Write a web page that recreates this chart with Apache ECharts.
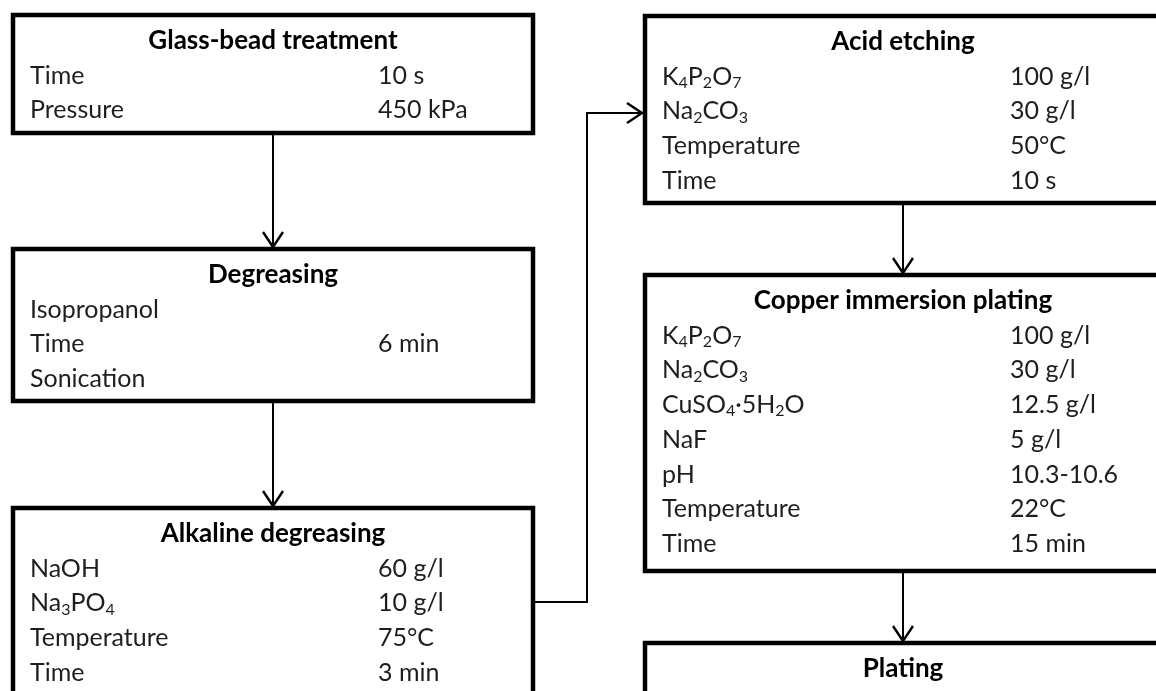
<!DOCTYPE html>
<html>
<head>
<meta charset="utf-8">
<script src="https://cdn.jsdelivr.net/npm/echarts@6/dist/echarts.min.js"></script>
<style>
  html, body { margin: 0; padding: 0; background: #ffffff; }
  #chart { width: 1156px; height: 691px; }
</style>
</head>
<body>
<div id="chart"></div>
<script>
// ---------- data ----------
const stepTitles = ['Glass-bead treatment', 'Degreasing', 'Alkaline degreasing',
                    'Acid etching', 'Copper immersion plating', 'Plating'];

const glassLabels = ['Time', 'Pressure'];
const glassValues = ['10 s', '450 kPa'];

const degreaseLabels = ['Isopropanol', 'Time', 'Sonication'];
const degreaseValues = ['', '6 min', ''];

const alkalineLabels = ['NaOH', 'Na{s|3}PO{s|4}', 'Temperature', 'Time'];
const alkalineValues = ['60 g/l', '10 g/l', '75°C', '3 min'];

const acidLabels = ['K{s|4}P{s|2}O{s|7}', 'Na{s|2}CO{s|3}', 'Temperature', 'Time'];
const acidValues = ['100 g/l', '30 g/l', '50°C', '10 s'];

const copperLabels = ['K{s|4}P{s|2}O{s|7}', 'Na{s|2}CO{s|3}', 'CuSO{s|4}·5H{s|2}O', 'NaF', 'pH', 'Temperature', 'Time'];
const copperValues = ['100 g/l', '30 g/l', '12.5 g/l', '5 g/l', '10.3-10.6', '22°C', '15 min'];

const platingLabels = [];
const platingValues = [];

const stepLabels = [glassLabels, degreaseLabels, alkalineLabels, acidLabels, copperLabels, platingLabels];
const stepValues = [glassValues, degreaseValues, alkalineValues, acidValues, copperValues, platingValues];

// ---------- layout (positions / sizes) ----------
const boxLayout = [
  { x: 13,  y: 15,  w: 520, h: 118 },
  { x: 13,  y: 249, w: 520, h: 152 },
  { x: 13,  y: 508, w: 520, h: 220 },
  { x: 645, y: 16,  w: 516, h: 187 },
  { x: 645, y: 275, w: 516, h: 296 },
  { x: 645, y: 643, w: 516, h: 120 }
];
const TITLE_OFF = 26, ROW_GAP = 34.7, LABEL_X = 17, VALUE_X = 365;
const FONT = 'Lato, "Open Sans", sans-serif';
const FS = 25;

const richStyles = {
  n: { fontSize: FS, fontFamily: FONT, fill: '#1e1e1e', lineHeight: 28, verticalAlign: 'middle' },
  s: { fontSize: 16, fontFamily: FONT, fill: '#1e1e1e', lineHeight: 14, verticalAlign: 'bottom' }
};

function toRich(str) {
  const parts = [];
  const re = /\{s\|([^}]*)\}/g;
  let last = 0, m;
  while ((m = re.exec(str)) !== null) {
    if (m.index > last) parts.push('{n|' + str.slice(last, m.index) + '}');
    parts.push('{s|' + m[1] + '}');
    last = re.lastIndex;
  }
  if (last < str.length) parts.push('{n|' + str.slice(last) + '}');
  return parts.join('');
}

const elements = [];

boxLayout.forEach((b, i) => {
  elements.push({
    type: 'rect',
    shape: { x: b.x, y: b.y, width: b.w, height: b.h },
    style: { fill: '#ffffff', stroke: '#000000', lineWidth: 4.5 },
    z: 1
  });
  elements.push({
    type: 'text',
    x: b.x + b.w / 2,
    y: b.y + TITLE_OFF,
    style: {
      text: stepTitles[i],
      fontSize: 26, fontWeight: 'bold', fontFamily: FONT,
      fill: '#000000', align: 'center', verticalAlign: 'middle'
    },
    z: 2
  });
  const labs = stepLabels[i], vals = stepValues[i];
  labs.forEach((lab, k) => {
    const yy = b.y + TITLE_OFF + ROW_GAP * (k + 1);
    elements.push({
      type: 'text', x: b.x + LABEL_X, y: yy,
      style: { text: toRich(lab), rich: richStyles, align: 'left', verticalAlign: 'middle' },
      z: 2
    });
    if (vals[k]) {
      elements.push({
        type: 'text', x: b.x + VALUE_X, y: yy,
        style: { text: toRich(vals[k]), rich: richStyles, align: 'left', verticalAlign: 'middle' },
        z: 2
      });
    }
  });
});

function arrow(points) {
  elements.push({
    type: 'polyline', shape: { points: points },
    style: { stroke: '#000', lineWidth: 2, fill: null }, z: 3
  });
  const p1 = points[points.length - 2], p2 = points[points.length - 1];
  const ang = Math.atan2(p2[1] - p1[1], p2[0] - p1[0]);
  const L = 15, W = 10;
  const bx = p2[0] - L * Math.cos(ang), by = p2[1] - L * Math.sin(ang);
  const nx = -Math.sin(ang) * W, ny = Math.cos(ang) * W;
  elements.push({
    type: 'polyline',
    shape: { points: [[bx + nx, by + ny], p2, [bx - nx, by - ny]] },
    style: { stroke: '#000', lineWidth: 2.4, fill: null }, z: 3
  });
}
const cxL = boxLayout[0].x + boxLayout[0].w / 2;
const cxR = boxLayout[3].x + boxLayout[3].w / 2;
arrow([[cxL, boxLayout[0].y + boxLayout[0].h + 2], [cxL, boxLayout[1].y - 2]]);
arrow([[cxL, boxLayout[1].y + boxLayout[1].h + 2], [cxL, boxLayout[2].y - 2]]);
arrow([[cxR, boxLayout[3].y + boxLayout[3].h + 2], [cxR, boxLayout[4].y - 2]]);
arrow([[cxR, boxLayout[4].y + boxLayout[4].h + 2], [cxR, boxLayout[5].y - 2]]);
arrow([[boxLayout[2].x + boxLayout[2].w + 2, 602], [587, 602], [587, 113], [boxLayout[3].x - 3, 113]]);

const chart = echarts.init(document.getElementById('chart'), null, { renderer: 'canvas' });
chart.setOption({
  backgroundColor: '#ffffff',
  animation: false,
  graphic: { elements: elements }
});
</script>
</body>
</html>
